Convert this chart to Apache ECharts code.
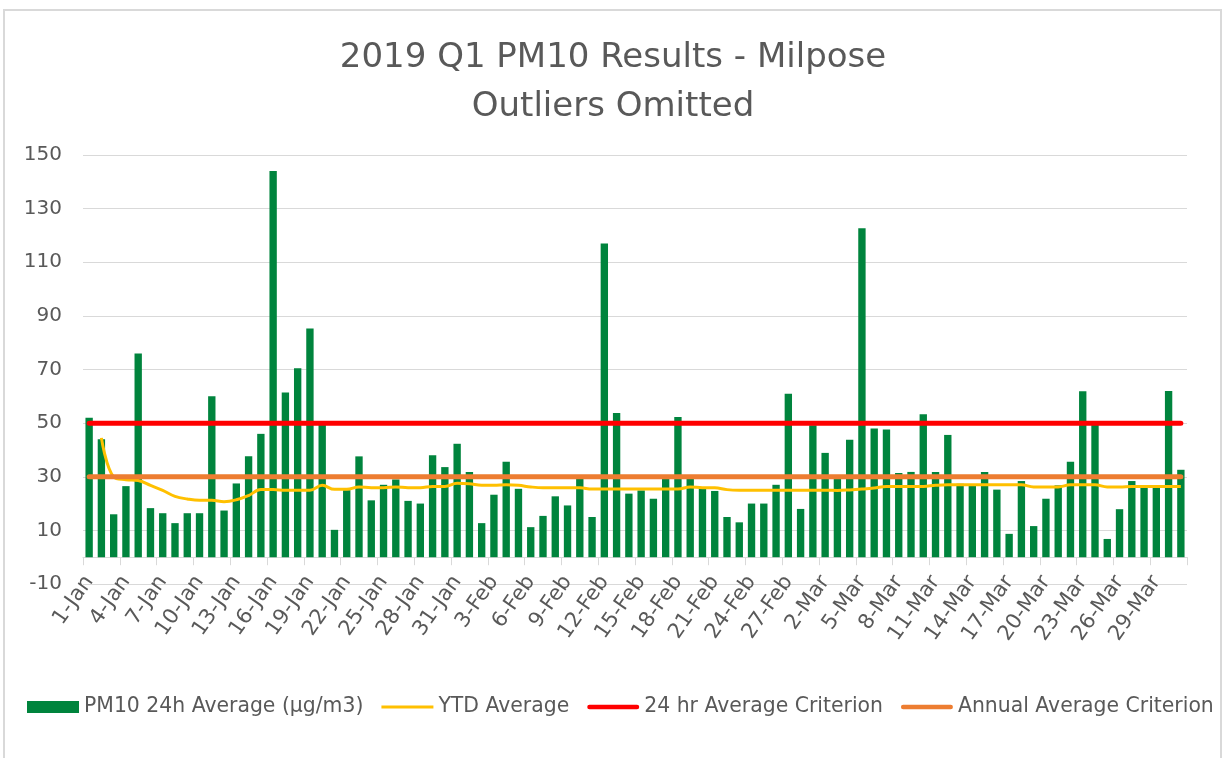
<!DOCTYPE html>
<html>
<head>
<meta charset="utf-8">
<script src="https://cdn.jsdelivr.net/npm/echarts@6/dist/echarts.min.js"></script>
<style>
html,body{margin:0;padding:0;background:#fff;}
#chart{width:1226px;height:758px;}
</style>
</head>
<body>
<div id="chart"></div>
<script>
// Categories: 1-Jan .. 31-Mar 2019
const months = ['Jan', 'Feb', 'Mar'];
const monthDays = [31, 28, 31];
const dates = [];
months.forEach((m, i) => { for (let d = 1; d <= monthDays[i]; d++) dates.push(d + '-' + m); });

// PM10 24h Average (µg/m3)
const pm10Jan = [52, 44, 16, 26.5, 76, 18.3, 16.4, 12.7, 16.4, 16.4, 60, 17.4, 27.5, 37.6, 46, 144, 61.4, 70.5, 85.3, 49.5, 10.2, 25, 37.6, 21.2, 27, 29, 21, 20, 38, 33.6, 42.3];
const pm10Feb = [31.8, 12.7, 23.3, 35.6, 25.5, 11.2, 15.4, 22.7, 19.3, 29.3, 15, 117, 53.8, 23.7, 24.9, 21.8, 29.3, 52.3, 29.3, 25.5, 24.7, 15, 13, 20, 20, 27, 61, 18];
const pm10Mar = [49.2, 38.9, 29.3, 43.8, 122.7, 48, 47.6, 31.4, 31.8, 53.3, 31.8, 45.6, 27.4, 27, 31.8, 25.2, 8.7, 28.4, 11.6, 21.8, 26.8, 35.6, 61.9, 49.4, 6.8, 17.9, 28.4, 26, 26, 62, 32.6];
const pm10 = pm10Jan.concat(pm10Feb, pm10Mar);

// YTD Average
const ytdJan = [null, 44.5, 29.9, 28.9, 28.6, 26.8, 24.9, 22.7, 21.7, 21.2, 21.2, 20.7, 21.4, 23, 25.2, 25.2, 25, 25, 25, 26.8, 25.3, 25.3, 26.2, 25.9, 25.9, 26.2, 25.9, 25.9, 26.4, 26.4, 27.6];
const ytdFeb = [27.4, 26.8, 26.8, 27, 26.8, 26.2, 25.9, 25.9, 25.9, 25.9, 25.4, 25.4, 25.4, 25.4, 25.4, 25.4, 25.4, 25.4, 26.2, 25.9, 25.9, 25.2, 25, 25, 25, 25, 25, 25];
const ytdMar = [25, 25, 24.9, 25.1, 25.4, 25.8, 26.4, 26.4, 26.4, 26.4, 26.8, 27, 27, 27, 27, 27, 27, 27, 26.2, 26.2, 26.2, 27, 27, 27, 26.2, 26.2, 26.4, 26.4, 26.4, 26.4, 26.4];
const ytd = ytdJan.concat(ytdFeb, ytdMar);

// Criteria
const crit24h = 50;
const critAnnual = 30;

// Y axis ticks
const yMin = -10, yMax = 150, yStep = 20;

const titleLines = ['2019 Q1 PM10 Results - Milpose', 'Outliers Omitted'];
const seriesNames = ['PM10 24h Average (µg/m3)', 'YTD Average', '24 hr Average Criterion', 'Annual Average Criterion'];

const FONT = 'DejaVu Sans';
const TXT = '#595959';

const chart = echarts.init(document.getElementById('chart'));
chart.setOption({
  animation: false,
  backgroundColor: '#fff',
  textStyle: { fontFamily: FONT },
  graphic: [{
    type: 'rect', silent: true, z: -1,
    shape: { x: 4, y: 10, width: 1217, height: 760 },
    style: { fill: 'none', stroke: '#d9d9d9', lineWidth: 2 }
  }],
  title: [
    { text: titleLines[0], left: 'center', top: 33,
      textStyle: { fontFamily: FONT, fontSize: 34, fontWeight: 'normal', color: TXT, lineHeight: 40 } },
    { text: titleLines[1], left: 'center', top: 82,
      textStyle: { fontFamily: FONT, fontSize: 34, fontWeight: 'normal', color: TXT, lineHeight: 40 } }
  ],
  legend: {
    bottom: 36, left: 22,
    itemWidth: 52, itemHeight: 12, itemGap: 18,
    textStyle: { fontFamily: FONT, fontSize: 20.4, color: TXT },
    data: [
      { name: seriesNames[0], icon: 'rect' },
      { name: seriesNames[1], icon: 'path://M0,0 H52 V3 H0 Z' },
      { name: seriesNames[2], icon: 'path://M2,0 H50 A2,2 0 0 1 50,4.5 H2 A2,2 0 0 1 2,0 Z' },
      { name: seriesNames[3], icon: 'path://M2,0 H50 A2,2 0 0 1 50,4.5 H2 A2,2 0 0 1 2,0 Z' }
    ]
  },
  grid: { left: 83, right: 39, top: 155, bottom: 174, containLabel: false },
  xAxis: {
    type: 'category', data: dates, boundaryGap: true,
    axisLine: { show: true, onZero: true, lineStyle: { color: '#d9d9d9', width: 1 } },
    axisTick: { show: true, interval: 2, length: 8, lineStyle: { color: '#d9d9d9' } },
    axisLabel: { interval: 2, rotate: 55, margin: -6, padding: [26, 0, 0, 0], fontFamily: FONT, fontSize: 21, color: TXT }
  },
  yAxis: {
    type: 'value', min: yMin, max: yMax, interval: yStep,
    axisLine: { show: false }, axisTick: { show: false },
    splitLine: { lineStyle: { color: '#d9d9d9', width: 1 } },
    axisLabel: { margin: 21, fontFamily: FONT, fontSize: 20, color: TXT }
  },
  series: [
    {
      name: seriesNames[0], type: 'bar', data: pm10,
      barCategoryGap: '40%',
      itemStyle: { color: '#00843D' }
    },
    {
      name: seriesNames[1], type: 'line', data: ytd, smooth: 0.4,
      symbol: 'none', connectNulls: false,
      lineStyle: { color: '#FFC000', width: 3 }, itemStyle: { color: '#FFC000' }
    },
    {
      name: seriesNames[2], type: 'line', data: dates.map(() => crit24h),
      symbol: 'none',
      lineStyle: { color: '#FF0000', width: 5, cap: 'round' }, itemStyle: { color: '#FF0000' }
    },
    {
      name: seriesNames[3], type: 'line', data: dates.map(() => critAnnual),
      symbol: 'none',
      lineStyle: { color: '#ED7D31', width: 5, cap: 'round' }, itemStyle: { color: '#ED7D31' }
    }
  ]
});
</script>
</body>
</html>
